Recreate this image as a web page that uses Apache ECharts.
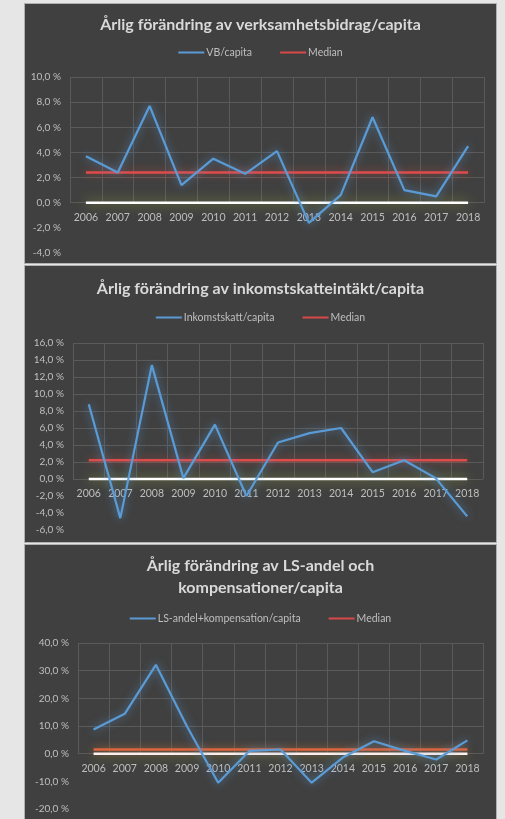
<!DOCTYPE html>
<html>
<head>
<meta charset="utf-8">
<script src="https://cdn.jsdelivr.net/npm/echarts@6/dist/echarts.min.js"></script>
<style>
html, body { margin: 0; padding: 0; width: 505px; height: 819px; background: #e6e6e6; overflow: hidden; }
.panel { position: absolute; left: 24px; width: 473px; background: #404040; border: 1px solid #b0b0b0; box-sizing: border-box; }
</style>
</head>
<body>
<div id="vbChart" class="panel" style="top:3px;height:261px"></div>
<div id="skattChart" class="panel" style="top:265px;height:278px"></div>
<div id="lsChart" class="panel" style="top:544px;height:282px"></div>
<script>
var years = ['2006', '2007', '2008', '2009', '2010', '2011', '2012', '2013', '2014', '2015', '2016', '2017', '2018'];

var vbValues = [3.7, 2.4, 7.7, 1.4, 3.5, 2.3, 4.1, -1.6, 0.6, 6.8, 1.0, 0.5, 4.5];
var vbMedian = [2.4, 2.4, 2.4, 2.4, 2.4, 2.4, 2.4, 2.4, 2.4, 2.4, 2.4, 2.4, 2.4];

var skattValues = [8.8, -4.6, 13.4, 0.1, 6.4, -2.0, 4.3, 5.4, 6.0, 0.8, 2.2, 0.1, -4.4];
var skattMedian = [2.2, 2.2, 2.2, 2.2, 2.2, 2.2, 2.2, 2.2, 2.2, 2.2, 2.2, 2.2, 2.2];

var lsValues = [8.7, 14.4, 32.1, 9.8, -10.5, 1.0, 1.5, -10.5, -1.4, 4.5, 1.0, -2.1, 4.8];
var lsMedian = [1.5, 1.5, 1.5, 1.5, 1.5, 1.5, 1.5, 1.5, 1.5, 1.5, 1.5, 1.5, 1.5];

var zeroLine = [0, 0, 0, 0, 0, 0, 0, 0, 0, 0, 0, 0, 0];

var font = 'Lato, "Open Sans", sans-serif';
var gridColor = '#5a5a5a';

function pct(v) {
    return v.toFixed(1).replace('.', ',') + ' %';
}

function makeChart(id, cfg) {
    var chart = echarts.init(document.getElementById(id), null, { renderer: 'canvas' });
    var h = chart.getHeight();
    var plotH = h - cfg.top - cfg.bottom;
    var upperH = plotH * cfg.max / (cfg.max - cfg.min);

    // horisontella linjer bara ovanför noll
    var lineColors = [];
    for (var v = cfg.min; v <= cfg.max + 1e-9; v += cfg.interval) {
        lineColors.push(v < 0 ? 'rgba(0,0,0,0)' : gridColor);
    }

    var option = {
        animation: false,
        backgroundColor: 'rgba(0,0,0,0)',
        title: {
            text: cfg.title,
            left: 'center',
            top: cfg.titleTop,
            textStyle: { color: '#d9d9d9', fontSize: 16, fontWeight: 'bold', fontFamily: font, lineHeight: 22 }
        },
        legend: {
            top: cfg.legendTop,
            left: 'center',
            data: [cfg.name, 'Median'],
            icon: 'rect',
            itemWidth: 26,
            itemHeight: 2,
            itemGap: 28,
            textStyle: { color: '#bfbfbf', fontSize: 10.5, fontFamily: font, padding: [0, 0, 0, -3] }
        },
        grid: [
            { left: cfg.left, right: cfg.right, top: cfg.top, bottom: cfg.bottom, outerBoundsMode: 'none', containLabel: false },
            { left: cfg.left, right: cfg.right, top: cfg.top, height: upperH, outerBoundsMode: 'none', containLabel: false }
        ],
        xAxis: [{
            type: 'category',
            data: years,
            gridIndex: 0,
            show: false
        }, {
            // nollinjens axel: etiketter och lodräta stödlinjer
            type: 'category',
            data: years,
            gridIndex: 1,
            axisLine: { show: false },
            axisTick: { show: false },
            axisLabel: { color: '#bfbfbf', fontSize: 10.5, fontFamily: font, margin: 9, interval: 0, hideOverlap: false },
            splitLine: { show: true, interval: 0, lineStyle: { color: gridColor, width: 1 } }
        }],
        yAxis: [{
            type: 'value',
            gridIndex: 0,
            min: cfg.min,
            max: cfg.max,
            interval: cfg.interval,
            axisLine: { show: false },
            axisTick: { show: false },
            axisLabel: { color: '#bfbfbf', fontSize: 10, fontFamily: font, margin: 9, formatter: pct },
            splitLine: { show: true, lineStyle: { color: lineColors, width: 1 } }
        }, {
            type: 'value',
            gridIndex: 1,
            min: 0,
            max: cfg.max,
            show: false,
            splitLine: { show: false }
        }],
        series: [{
            name: cfg.name,
            type: 'line',
            data: cfg.values,
            showSymbol: false,
            z: 4,
            lineStyle: { color: '#5b9bd5', width: 2.2, shadowColor: 'rgba(91,155,213,0.75)', shadowBlur: 8 },
            itemStyle: { color: '#5b9bd5' }
        }, {
            name: 'Median',
            type: 'line',
            data: cfg.median,
            showSymbol: false,
            z: 3,
            lineStyle: { color: cfg.medianColor, width: 2.5, shadowColor: 'rgba(224,80,60,0.6)', shadowBlur: 8 },
            itemStyle: { color: '#d94848' }
        }, {
            name: 'Noll',
            type: 'line',
            data: zeroLine,
            showSymbol: false,
            z: 2,
            lineStyle: { color: '#ffffff', width: 2.5, shadowColor: 'rgba(170,180,60,0.8)', shadowBlur: 12 },
            itemStyle: { color: '#ffffff' }
        }]
    };
    chart.setOption(option);
    return chart;
}

makeChart('vbChart', {
    title: 'Årlig förändring av verksamhetsbidrag/capita',
    name: 'VB/capita',
    values: vbValues,
    median: vbMedian,
    medianColor: '#e04b4b',
    min: -4, max: 10, interval: 2,
    titleTop: 5, legendTop: 38,
    left: 45, right: 12, top: 73, bottom: 10
});

makeChart('skattChart', {
    title: 'Årlig förändring av inkomstskatteintäkt/capita',
    name: 'Inkomstskatt/capita',
    values: skattValues,
    median: skattMedian,
    medianColor: '#e04b4b',
    min: -6, max: 16, interval: 2,
    titleTop: 7, legendTop: 41,
    left: 48, right: 13, top: 77, bottom: 12
});

makeChart('lsChart', {
    title: 'Årlig förändring av LS-andel och\nkompensationer/capita',
    name: 'LS-andel+kompensation/capita',
    values: lsValues,
    median: lsMedian,
    medianColor: '#e0643c',
    min: -20, max: 40, interval: 10,
    titleTop: 5, legendTop: 63,
    left: 53, right: 13, top: 98, bottom: 16
});
</script>
</body>
</html>
